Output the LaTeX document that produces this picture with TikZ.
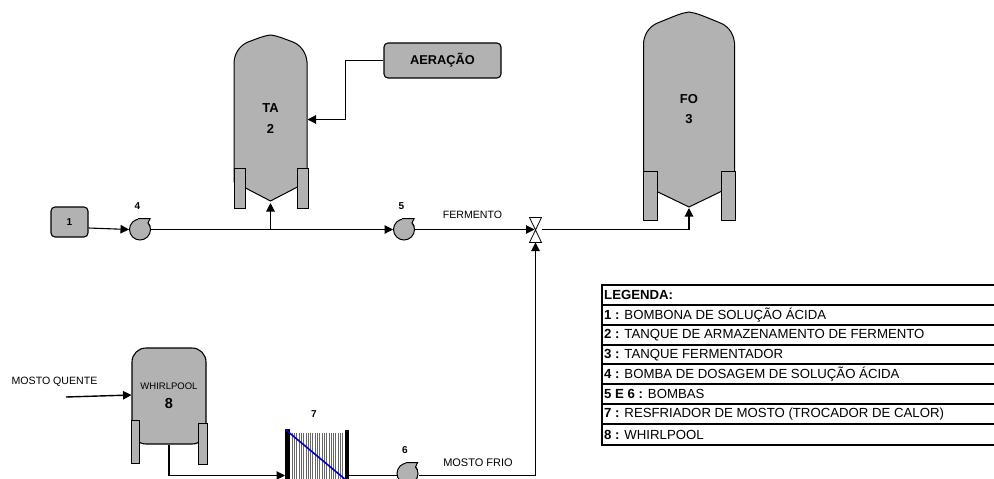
\documentclass[tikz,border=0pt]{standalone}
\usepackage{fontspec}
\setmainfont{Liberation Sans}
\usetikzlibrary{arrows.meta}
\definecolor{tankgray}{HTML}{B2B2B2}
\tikzset{
  pipe/.style={line width=1.1pt, black},
  feed/.style={pipe, -{Triangle[length=8.5pt,width=8.5pt]}},
  unitbox/.style={draw=black, line width=1.1pt, fill=tankgray, rounded corners=4pt, inner sep=0pt, font=\bfseries},
  tankline/.style={draw=black, line width=1pt, fill=tankgray},
  pumpbody/.style={circle, draw=black, line width=1pt, fill=tankgray, minimum size=21pt, inner sep=0pt},
  tag/.style={font=\fontsize{10}{12}\selectfont\bfseries, inner sep=0pt},
  flowtext/.style={font=\fontsize{10.6}{12}\selectfont, inner sep=0pt},
  legendtext/.style={font=\fontsize{13.2}{15}\selectfont, anchor=west, inner sep=0pt},
}
\begin{document}
\begin{tikzpicture}[x=1pt, y=-1pt]
\clip (0,0) rectangle (994,479);
% vertical tanks: name/centre/half width/top/shoulder/leg top/cone start/tip/leg bottom/leg width/label height
\foreach \nm/\xc/\hw/\yt/\ys/\yl/\yc/\yp/\yb/\lw/\yn/\lab in
  {TA/270.5/36.5/35/62/168/182/201/208/11/118.5/{TA\\2}, FO/689/45.5/12/43/171/185/207/220/14/109/{FO\\3}}{
  \draw[tankline] (\xc-\hw,\yc) -- (\xc-\hw,\ys)
    .. controls (\xc-\hw+1,\ys-12) and (\xc-\hw+9,\ys-18) .. (\xc-\hw+14,\ys-20)
    .. controls (\xc-14,\yt+4) and (\xc-8,\yt+1) .. (\xc,\yt)
    .. controls (\xc+8,\yt+1) and (\xc+14,\yt+4) .. (\xc+\hw-14,\ys-20)
    .. controls (\xc+\hw-9,\ys-18) and (\xc+\hw-1,\ys-12) .. (\xc+\hw,\ys)
    -- (\xc+\hw,\yc) -- (\xc,\yp) -- cycle;
  \draw[tankline] (\xc-\hw,\yl) rectangle (\xc-\hw+\lw,\yb);
  \draw[tankline] (\xc+\hw-\lw+1,\yl) rectangle (\xc+\hw+1,\yb);
  \coordinate (tip\nm) at (\xc,\yp);
  \node[font=\fontsize{13}{20.5}\selectfont\bfseries, align=center, inner sep=0pt] (label\nm) at (\xc,\yn) {\lab};
}
\coordinate (sideTA) at (307.5,119.5);
\node[unitbox, minimum width=117pt, minimum height=35pt, font=\fontsize{12.8}{14}\selectfont\bfseries] (aeracao) at (442.5,60.5) {AERAÇÃO};
\node[unitbox, minimum width=37pt, minimum height=30pt, font=\fontsize{10}{12}\selectfont\bfseries] (bombona) at (69.5,222) {1};
% whirlpool with its legs
\node[unitbox, rounded corners=14pt, minimum width=74pt, minimum height=96pt] (whirlpool) at (169,396) {};
\node[flowtext, font=\fontsize{9.5}{11}\selectfont] (whirltext) at (169,386) {WHIRLPOOL};
\node[font=\fontsize{14.5}{16}\selectfont\bfseries, inner sep=0pt] (whirlnum) at (169,404) {8};
\draw[tankline] (131,420) rectangle (139,463);
\draw[tankline] (198.5,423) rectangle (207,464);
% pumps, outlet laid over the body and stroked on its outer edge only
\foreach \nm/\xc/\yc/\lab in {pumpA/140/229.5/4, pumpB/404/229.5/5, pumpC/407.5/473.5/6}{
  \node[pumpbody] (\nm) at (\xc,\yc) {};
  \fill[tankgray] (\xc-2,\yc-10.5) -- (\xc+10,\yc-10.5) -- (\xc+8,\yc-6.5) -- (\xc+9,\yc) -- (\xc,\yc) -- cycle;
  \draw[line width=1pt] (\xc-2,\yc-10.8) -- (\xc+10,\yc-10.8) -- (\xc+8,\yc-6.5) -- (\xc+10.3,\yc-3);
  \node[tag] (tag\nm) at (\xc-2.5,\yc-23) {\lab};
}
% cooler
\foreach \i in {0,...,22}
  \draw[black!60, line width=0.6pt] (292+\i*2.3,433) -- (292+\i*2.3,479);
\draw[line width=4.5pt] (287.5,429) -- (287.5,479);
\draw[line width=3.5pt] (347,430) -- (347,479);
\coordinate (coolerin) at (285,475.5);
\coordinate (coolerout) at (349,475.5);
\draw[draw={rgb,255:red,0;green,0;blue,204}, line width=1.6pt] (286,430) -- (346,480);
\node[tag] (tagcooler) at (314,414) {7};
% valve
\coordinate (valve) at (535.5,229.5);
\draw[line width=0.8pt, fill=white] (529.5,217.5) -- (541.5,217.5) -- (529.5,242.5) -- (541.5,242.5) -- cycle;
% connectors
\draw[feed] ([yshift=-6pt]bombona.east) -- (pumpA.west);
\draw[feed] (pumpA.east) -- (pumpB.west);
\draw[feed] (270.5,229.5) -- ([yshift=-2pt]tipTA);
\draw[feed] (aeracao.west) -- (345.5,60.5) |- (sideTA);
\draw[feed] (pumpB.east) -- ([xshift=-1pt]valve);
\draw[feed] ([xshift=6pt]valve) -| ([yshift=-1pt]tipFO);
\draw[feed] (whirlpool.south) |- (coolerin);
\draw[pipe] (coolerout) -- (pumpC.west |- coolerout);
\draw[feed] (pumpC.east |- coolerout) -| ([yshift=-13pt]valve);
\coordinate (hotstart) at (66,397);
\draw[feed, line width=1.4pt] (hotstart) -- (whirlpool.west |- 0,395);
% flow labels
\node[flowtext] (fermento) at (472.5,215) {FERMENTO};
\node[flowtext, font=\fontsize{11}{12}\selectfont] (mostofrio) at (478,463) {MOSTO FRIO};
\node[flowtext] (mostoquente) at (54.5,382) {MOSTO QUENTE};
% legend table
\draw[line width=2pt] (1100,285) -- (602,285) -- (602,445) -- (1100,445);
\foreach \yr in {305,325,345,364,384,404,424}
  \draw[line width=1.6pt] (602,\yr) -- (1000,\yr);
\foreach \i/\yr/\num/\txt in {
  1/315/{1 :}/{ BOMBONA DE SOLUÇÃO ÁCIDA},
  2/335/{2 :}/{ TANQUE DE ARMAZENAMENTO DE FERMENTO},
  3/355/{3 :}/{ TANQUE FERMENTADOR},
  4/374/{4 :}/{ BOMBA DE DOSAGEM DE SOLUÇÃO ÁCIDA},
  5/394/{5 E 6 :}/{ BOMBAS},
  6/414/{7 :}/{ RESFRIADOR DE MOSTO (TROCADOR DE CALOR)},
  7/434.5/{8 :}/{ WHIRLPOOL}}
  \node[legendtext] (legend\i) at (604,\yr) {\textbf{\num}\txt};
\node[legendtext, font=\fontsize{13.2}{15}\selectfont\bfseries] (legendtitle) at (604,295) {LEGENDA:};
\end{tikzpicture}
\end{document}
